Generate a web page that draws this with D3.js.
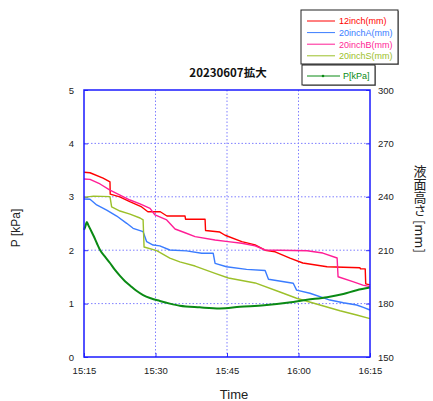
<!DOCTYPE html>
<html><head><meta charset="utf-8">
<script src="https://cdn.jsdelivr.net/npm/d3@7/dist/d3.min.js"></script>
<style>
html,body{margin:0;padding:0;background:#fff;}
svg{display:block;}
text{font-family:"Liberation Sans",Arial,sans-serif;}
</style></head>
<body><svg id="c" width="433" height="401"></svg>
<script>
// ---------- data (minutes after 15:15, values) ----------
const title = "20230607拡大";
const xTickLabels = ["15:15","15:30","15:45","16:00","16:15"];
const leftTicks = [0,1,2,3,4,5];
const rightTicks = [150,180,210,240,270,300];

const t12 = [0,1.26,4,5.45,5.5,7.5,9.6,12.1,13.4,16,17.4,21.2,21.3,25.4,25.5,28.5,29.6,33.1,35.9,38,40.1,43.2,45.9,51,57.9,58,59,59.1,60];
const v12 = [253.8,253.5,250.5,248.4,241.5,240,237.3,234.3,231.6,231.6,229.2,229.2,227.4,227.4,221.1,220.2,218.4,214.8,213,210,209.1,205.5,202.8,200.7,200.1,199.5,199.5,191.1,190.5];

const tA = [0,1.26,2.66,4.76,6.86,8.96,10.3,12.4,13.15,14.5,15.9,18,21.5,24.7,27.1,27.5,29.9,34.1,38,38.7,43.9,44.6,47.4,51.6,54.4,57.2,58.6,60];
const vA = [238.8,238.6,235.4,232.5,229.2,225.1,222.3,220.4,214.8,212.9,212.4,210.1,209.6,208.3,208.3,202.6,200.7,199.2,198.6,193.7,191.4,187.6,185.8,182.0,180.5,179.2,177.9,176.4];

const tB = [0,1.26,3.36,5.45,7.55,9.65,11.75,13.85,14.9,17.35,19.1,21.2,23.3,27.5,30.2,33.1,35.9,38,46.8,50.1,53.1,53.3,56.4,58.5,60];
const vB = [250.0,249.8,247.2,243.8,241.0,238.2,236.0,233.5,229.8,227.0,221.9,219.8,217.6,215.7,214.8,213.9,212.4,210.1,209.7,208.4,205.6,195.1,192.3,190.4,189.5];

const tS = [0,2,5.45,5.8,7.55,9.65,11.75,12.4,12.6,15.25,18,20.1,23.3,27.5,30.3,35.9,41.1,44.6,49.5,53.7,57.2,60];
const vS = [239.7,240.4,240.1,234.4,232.0,230.3,228.1,227.0,211.8,209.8,205.6,203.4,201.1,197.0,194.4,191.6,186.5,183.0,179.2,176.0,173.6,171.6];

const tP = [0,0.3,0.6,0.9,1.4,2,2.7,3.4,4.4,5.45,6.5,7.55,8.6,9.65,11,12.4,14,15.9,18,20.1,24.3,28.5,32.7,37.8,43,46.8,51,54.4,57.2,60];
const vP = [2.38,2.45,2.53,2.47,2.38,2.27,2.13,2.00,1.88,1.76,1.63,1.52,1.42,1.34,1.24,1.16,1.10,1.05,1.00,0.96,0.93,0.91,0.94,0.97,1.02,1.07,1.12,1.18,1.25,1.30];

const seriesNames = ["12inch(mm)","20inchA(mm)","20inchB(mm)","20inchS(mm)"];
const seriesColors = ["#ff0000","#3a7cff","#ff1e96","#9cc02a"];
const pName = "P[kPa]";
const pColor = "#0a8a14";

// ---------- layout ----------
const svg = d3.select("#c");
const L=84,R=370,T=90,B=357;
const t0 = new Date(2023,5,7,15,15);
const toDate = m => new Date(t0.getTime()+m*60000);
const x = d3.scaleTime().domain([toDate(0),toDate(60)]).range([L,R]);
const yP = d3.scaleLinear().domain([0,5]).range([B,T]);
const yM = d3.scaleLinear().domain([150,300]).range([B,T]);
const gridColor = "#7f7fff";

// grid
const g = svg.append("g");
const xTickDates = xTickLabels.map((s,i)=>toDate(i*15));
g.selectAll(".vg").data(xTickDates.slice(1,-1)).join("line")
 .attr("x1",d=>x(d)).attr("x2",d=>x(d)).attr("y1",T).attr("y2",B)
 .attr("stroke",gridColor).attr("stroke-width",1).attr("stroke-dasharray","1.5,2");
g.selectAll(".hg").data(leftTicks.slice(1,-1)).join("line")
 .attr("x1",L).attr("x2",R).attr("y1",d=>yP(d)).attr("y2",d=>yP(d))
 .attr("stroke",gridColor).attr("stroke-width",1).attr("stroke-dasharray","1.5,2");

// axes
const axL = d3.axisLeft(yP).tickValues(leftTicks).tickSize(-4).tickPadding(10).tickFormat(d3.format("d"));
const axR = d3.axisRight(yM).tickValues(rightTicks).tickSize(-4).tickPadding(8);
const axB = d3.axisBottom(x).tickValues(xTickDates).tickSize(-4).tickPadding(10).tickFormat((d,i)=>xTickLabels[i]);
function styleAxis(sel){
  sel.select(".domain").remove();
  sel.selectAll("line").attr("stroke","#3030ff");
  sel.selectAll("text").attr("font-size","9.5px").attr("fill","#222").attr("font-family","'Liberation Sans',Arial,sans-serif");
}
svg.append("g").attr("transform",`translate(${L},0)`).call(axL).call(styleAxis);
svg.append("g").attr("transform",`translate(${R},0)`).call(axR).call(styleAxis);
svg.append("g").attr("transform",`translate(0,${B})`).call(axB).call(styleAxis);

// series
const tArr=[t12,tA,tB,tS], vArr=[v12,vA,vB,vS];
const lineM = d3.line().x(d=>x(toDate(d[0]))).y(d=>yM(d[1]));
tArr.forEach((ts,i)=>{
  const pts = ts.map((t,j)=>[t,vArr[i][j]]);
  svg.append("path").attr("d",lineM(pts)).attr("fill","none")
   .attr("stroke",seriesColors[i]).attr("stroke-width",1.4).attr("stroke-linejoin","round");
});
const lineP = d3.line().x(d=>x(toDate(d[0]))).y(d=>yP(d[1])).curve(d3.curveMonotoneX);
svg.append("path").attr("d",lineP(tP.map((t,j)=>[t,vP[j]]))).attr("fill","none")
 .attr("stroke",pColor).attr("stroke-width",2);

// frame
svg.append("rect").attr("x",L).attr("y",T).attr("width",R-L).attr("height",B-T)
 .attr("fill","none").attr("stroke","#1a1aff").attr("stroke-width",1.5);

// title & labels
svg.append("text").attr("x",228).attr("y",77).attr("text-anchor","middle")
 .attr("font-size","11.5px").attr("font-weight","bold").attr("fill","#111")
 .style("font-family","'Noto Sans CJK JP','Liberation Sans',sans-serif").text(title);
svg.append("text").attr("x",234).attr("y",399).attr("text-anchor","middle")
 .attr("font-size","13px").attr("fill","#222").text("Time");
svg.append("text").attr("transform","translate(20,228) rotate(-90)").attr("text-anchor","middle")
 .attr("font-size","12px").attr("fill","#222").text("P [kPa]");
svg.append("text").attr("x",420).attr("y",165)
 .style("writing-mode","vertical-rl").style("font-family","'Noto Sans CJK JP',sans-serif")
 .attr("font-size","13px").attr("fill","#222").text("液面高さ [mm]");

// legend 1
const lg = svg.append("g");
lg.append("rect").attr("x",302).attr("y",11).attr("width",97).attr("height",54).attr("fill","#999");
lg.append("rect").attr("x",301).attr("y",10).attr("width",97).attr("height",54)
 .attr("fill","#fff").attr("stroke","#222").attr("stroke-width",1);
seriesNames.forEach((n,i)=>{
  const yy = 21 + i*11.6;
  lg.append("line").attr("x1",307).attr("x2",335).attr("y1",yy).attr("y2",yy)
   .attr("stroke",seriesColors[i]).attr("stroke-width",1);
  lg.append("text").attr("x",339).attr("y",yy+3.3).attr("font-size","9px")
   .attr("fill",seriesColors[i]).text(n);
});
// legend 2
lg.append("rect").attr("x",303).attr("y",66).attr("width",73).attr("height",20).attr("fill","#999");
lg.append("rect").attr("x",302).attr("y",65).attr("width",73).attr("height",20)
 .attr("fill","#fff").attr("stroke","#222").attr("stroke-width",1);
lg.append("line").attr("x1",307).attr("x2",340).attr("y1",76).attr("y2",76).attr("stroke",pColor).attr("stroke-width",1);
lg.append("circle").attr("cx",323).attr("cy",76).attr("r",1.3).attr("fill",pColor);
lg.append("text").attr("x",343).attr("y",79.3).attr("font-size","9px").attr("fill",pColor).text(pName);
</script></body></html>
